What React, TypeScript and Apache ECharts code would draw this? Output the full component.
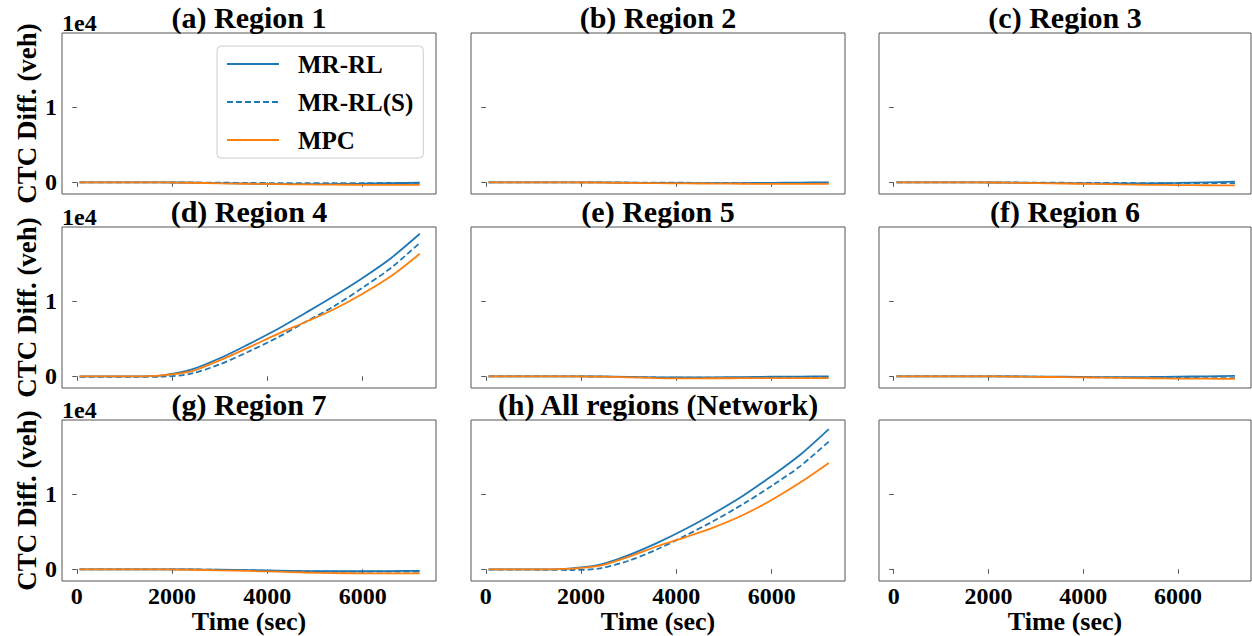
import React, { useEffect, useRef } from 'react';
import * as echarts from 'echarts';

const TIME = [60, 600, 1200, 1800, 2400, 3000, 3600, 4200, 4800, 5400, 6000, 6600, 7200];

const PANEL_TITLES = [
  '(a) Region 1', '(b) Region 2', '(c) Region 3',
  '(d) Region 4', '(e) Region 5', '(f) Region 6',
  '(g) Region 7', '(h) All regions (Network)', '',
];

const SERIES_NAMES = ['MR-RL', 'MR-RL(S)', 'MPC'];
const X_TICKS = [0, 2000, 4000, 6000];
const Y_TICKS = [0, 10000];

// panels a..h, values in veh
const MR_RL = [
  [0, 0, 0, -10, -50, -120, -180, -220, -230, -220, -180, -120, -60],
  [0, 0, 0, 0, -20, -50, -80, -100, -110, -100, -80, -40, 0],
  [0, 0, 0, -10, -40, -80, -120, -150, -160, -140, -80, 0, 80],
  [0, 0, 0, 130, 880, 2390, 4240, 6200, 8400, 10650, 13050, 15700, 18900],
  [0, 0, 0, 0, -20, -80, -140, -150, -130, -100, -60, -30, 0],
  [0, 0, 0, 0, -10, -30, -60, -90, -100, -90, -50, 0, 50],
  [0, 0, 0, 0, -20, -60, -110, -170, -230, -260, -260, -230, -200],
  [0, 0, 0, 130, 610, 1880, 3500, 5370, 7470, 9750, 12370, 15200, 18600],
];

const MR_RL_S = [
  [0, 0, 0, 0, -20, -50, -80, -100, -110, -110, -100, -90, -80],
  [0, 0, 0, 0, -10, -30, -50, -60, -70, -70, -70, -70, -70],
  [0, 0, 0, 0, -20, -40, -60, -80, -90, -100, -100, -100, -100],
  [-80, -80, -80, -40, 350, 1590, 3260, 5100, 7200, 9300, 11750, 14400, 17700],
  [0, 0, 0, -10, -40, -100, -160, -180, -180, -170, -160, -150, -140],
  [0, 0, 0, 0, -20, -50, -90, -130, -170, -200, -220, -230, -240],
  [0, 0, 0, 0, -20, -70, -130, -200, -260, -300, -320, -320, -320],
  [-40, -40, -60, -90, 130, 1140, 2660, 4500, 6470, 8650, 11060, 13680, 16950],
];

const MPC = [
  [0, 0, 0, -10, -60, -130, -190, -240, -280, -310, -330, -340, -340],
  [0, 0, 0, -10, -40, -80, -120, -150, -170, -190, -200, -210, -220],
  [0, 0, 0, -10, -50, -100, -160, -220, -280, -330, -370, -390, -400],
  [0, 0, 0, 130, 660, 2120, 3800, 5570, 7200, 8900, 10950, 13300, 16250],
  [0, 0, 0, 0, -40, -130, -230, -270, -260, -250, -240, -240, -230],
  [0, 0, 0, -10, -30, -70, -110, -160, -210, -260, -300, -320, -330],
  [0, 0, 0, -10, -60, -130, -220, -320, -420, -500, -540, -550, -550],
  [0, 0, 0, 90, 480, 1660, 3060, 4280, 5600, 7200, 9200, 11500, 14100],
];

const FONT = '"Liberation Serif", "Times New Roman", serif';
const BLUE = '#1f77b4';
const ORANGE = '#ff7f0e';
const FRAME = '#555555';

const COL_LEFT = [62, 471, 879];
const COL_W = [374, 374, 372];
const ROW_TOP = [33, 227, 420];
const ROW_H = 161;

export default function App() {
  const ref = useRef<HTMLDivElement>(null);

  useEffect(() => {
    if (!ref.current) return;
    const chart = echarts.init(ref.current, undefined, { renderer: 'svg' });

    const grids: any[] = [];
    const xAxes: any[] = [];
    const yAxes: any[] = [];
    const series: any[] = [];
    const graphics: any[] = [];

    for (let i = 0; i < 9; i++) {
      const row = Math.floor(i / 3);
      const col = i % 3;
      const left = COL_LEFT[col];
      const top = ROW_TOP[row];
      const w = COL_W[col];
      grids.push({
        left, top, width: w, height: ROW_H,
        show: true, borderColor: FRAME, borderWidth: 1, backgroundColor: '#fff',
        containLabel: false, outerBoundsMode: 'none',
      });
      xAxes.push({
        type: 'value', gridIndex: i, min: -310, max: 7540,
        splitLine: { show: false },
        axisLine: { show: false },
        axisTick: { show: true, customValues: X_TICKS, length: 4.5, lineStyle: { color: FRAME, width: 1 } },
        axisLabel: {
          show: row === 2, customValues: X_TICKS, margin: 6,
          formatter: (v: number) => String(v),
          fontSize: 24, lineHeight: 18, fontWeight: 'bold', fontFamily: FONT, color: '#000',
        },
      });
      yAxes.push({
        type: 'value', gridIndex: i, min: -1550, max: 19800,
        splitLine: { show: false },
        axisLine: { show: false },
        axisTick: { show: true, customValues: Y_TICKS, length: 4.5, lineStyle: { color: FRAME, width: 1 } },
        axisLabel: {
          show: col === 0, customValues: Y_TICKS, margin: 5,
          formatter: (v: number) => String(Math.round(v / 10000)),
          fontSize: 24, fontWeight: 'bold', fontFamily: FONT, color: '#000',
        },
      });

      if (i < 8) {
        const sets = [
          { name: SERIES_NAMES[0], vals: MR_RL[i], color: BLUE, type: 'solid' as any },
          { name: SERIES_NAMES[1], vals: MR_RL_S[i], color: BLUE, type: [6, 3] as any },
          { name: SERIES_NAMES[2], vals: MPC[i], color: ORANGE, type: 'solid' as any },
        ];
        sets.forEach((s, k) => {
          series.push({
            type: 'line', name: s.name, xAxisIndex: i, yAxisIndex: i,
            data: TIME.map((t, j) => [t, s.vals[j]]),
            symbol: 'none', smooth: 0.3,
            lineStyle: { color: s.color, width: 1.8, type: s.type },
            itemStyle: { color: s.color },
            z: 2 + k,
          });
        });
      }

      if (PANEL_TITLES[i]) {
        graphics.push({
          type: 'text', x: left + w / 2, y: top - 15.5,
          style: {
            text: PANEL_TITLES[i], font: `bold 30px ${FONT}`, fill: '#000',
            textAlign: 'center', textVerticalAlign: 'middle',
          },
        });
      }
      if (col === 0) {
        graphics.push({
          type: 'text', x: 27, y: top + ROW_H / 2, rotation: Math.PI / 2,
          style: {
            text: 'CTC Diff. (veh)', font: `bold 27px ${FONT}`, fill: '#000',
            textAlign: 'center', textVerticalAlign: 'middle',
          },
        });
        graphics.push({
          type: 'text', x: left, y: top - 10.5,
          style: {
            text: '1e4', font: `bold 24px ${FONT}`, fill: '#000',
            textAlign: 'left', textVerticalAlign: 'middle',
          },
        });
      }
      if (row === 2) {
        graphics.push({
          type: 'text', x: left + w / 2, y: 621,
          style: {
            text: 'Time (sec)', font: `bold 26px ${FONT}`, fill: '#000', lineHeight: 20,
            textAlign: 'center', textVerticalAlign: 'middle',
          },
        });
      }
    }

    chart.setOption({
      animation: false,
      backgroundColor: '#ffffff',
      grid: grids,
      xAxis: xAxes,
      yAxis: yAxes,
      series,
      legend: {
        data: SERIES_NAMES,
        orient: 'vertical',
        left: 217, top: 46,
        itemWidth: 52, itemHeight: 14, itemGap: 12,
        padding: [5, 10, 5, 9],
        backgroundColor: 'rgba(255,255,255,0.85)',
        borderColor: '#cccccc', borderWidth: 1, borderRadius: 4,
        selectedMode: false,
        itemStyle: { opacity: 0 },
        textStyle: {
          fontSize: 25, fontWeight: 'bold', fontFamily: FONT, color: '#000',
          lineHeight: 26, padding: [0, 0, 0, 14],
        },
      },
      graphic: graphics,
    });

    return () => chart.dispose();
  }, []);

  return (
    <div
      ref={ref}
      style={{ position: 'fixed', left: 0, top: 0, width: 1252, height: 636, background: '#fff' }}
    />
  );
}
